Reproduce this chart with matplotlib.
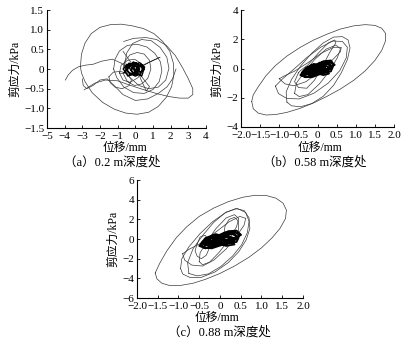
import numpy as np
import matplotlib
matplotlib.use("Agg")
import matplotlib.pyplot as plt
from matplotlib.ticker import FuncFormatter, MultipleLocator

# Fonts: serif digits, CJK fallback for the Chinese labels
FAM = ['Liberation Serif', 'Noto Sans CJK SC']
plt.rcParams['font.family'] = FAM
plt.rcParams['font.size'] = 8
plt.rcParams['axes.unicode_minus'] = True

# ---------------- (a) 0.2 m ----------------
a_big_x = [-3.11, -3.05, -2.85, -2.50, -2.00, -1.40, -0.80, -0.20, 0.45, 1.05, 1.55, 1.95, 2.15, 2.18, 2.05, 1.75,
           1.30, 0.75, 0.10, -0.55, -1.20, -1.85, -2.45, -2.85, -3.05, -3.11]
a_big_y = [0.06, 0.38, 0.66, 0.90, 1.06, 1.13, 1.14, 1.10, 1.03, 0.90, 0.70, 0.45, 0.15, -0.15, -0.45, -0.72,
           -0.95, -1.10, -1.15, -1.12, -1.02, -0.85, -0.60, -0.32, -0.10, 0.06]
a_tear_x = [-0.66, -0.10, 0.60, 1.20, 1.75, 2.25, 2.65, 3.00, 3.25, 3.25, 3.00, 2.50, 1.90, 1.25, 0.50, -0.25,
            -1.00, -1.70, -2.30, -2.90]
a_tear_y = [0.70, 0.78, 0.80, 0.75, 0.60, 0.35, 0.05, -0.25, -0.50, -0.65, -0.74, -0.74, -0.70, -0.63, -0.53, -0.42,
            -0.30, -0.28, -0.36, -0.53]
a_tail_x = [-3.96, -3.80, -3.55, -3.20, -2.80, -2.40, -1.90, -1.30, -0.80, -0.40]
a_tail_y = [-0.28, -0.15, -0.03, 0.06, 0.10, 0.12, 0.20, 0.25, 0.15, 0.02]
a_wave_x = [-3.00, -2.95, -2.75, -2.40, -2.00, -1.60, -1.20, -0.70, 0.00, 0.70, 1.30, 1.80, 2.10, 2.30]
a_wave_y = [-0.25, -0.42, -0.50, -0.42, -0.28, -0.25, -0.42, -0.65, -0.80, -0.76, -0.62, -0.45, -0.25, 0.00]
a_mid1_x = [-1.23, -1.15, -0.90, -0.45, 0.10, 0.65, 1.10, 1.42, 1.50, 1.35, 1.00, 0.50, -0.10, -0.65, -1.05, -1.23]
a_mid1_y = [0.00, 0.25, 0.46, 0.60, 0.63, 0.56, 0.40, 0.18, -0.05, -0.32, -0.52, -0.62, -0.60, -0.46, -0.22, 0.00]
a_mid2_x = [-0.60, -0.50, -0.15, 0.35, 0.90, 1.40, 1.78, 1.90, 1.72, 1.30, 0.75, 0.20, -0.30, -0.55, -0.60]
a_mid2_y = [0.10, 0.40, 0.65, 0.75, 0.72, 0.55, 0.30, 0.02, -0.28, -0.46, -0.50, -0.42, -0.22, -0.05, 0.10]
a_small_x = [-0.70, -0.60, -0.30, 0.10, 0.50, 0.80, 0.88, 0.70, 0.35, -0.05, -0.45, -0.68, -0.90, -0.80, -0.45,
             -0.05, 0.30, 0.38, 0.15, -0.30, -0.70, -0.90]
a_small_y = [0.00, 0.20, 0.36, 0.42, 0.38, 0.22, 0.00, -0.24, -0.38, -0.42, -0.32, -0.12, -0.10, 0.10, 0.22,
             0.25, 0.15, -0.05, -0.22, -0.34, -0.28, -0.10]
a_low_x = [-1.50, -1.42, -1.15, -0.75, -0.35, -0.22, -0.45, -0.85, -1.25, -1.50]
a_low_y = [-0.20, -0.35, -0.46, -0.50, -0.42, -0.28, -0.12, -0.06, -0.08, -0.20]
a_spike_x = [-0.70, -0.30, 0.00, 0.40, 0.80, 0.62, 0.30, 0.10, 0.70, 1.40, 0.80, 0.20, -0.30]
a_spike_y = [0.45, 0.20, 0.00, -0.22, -0.45, -0.56, -0.25, 0.00, 0.15, 0.30, 0.18, 0.05, -0.10]
a_core_x = [-0.65, -0.42, -0.18, 0.00, -0.24, -0.48, -0.30, 0.06, 0.24, 0.06, -0.18, -0.36, -0.12, 0.18, 0.42, 0.30,
            0.00, -0.30, -0.54, -0.36, 0.00, 0.24, 0.48, 0.36, 0.12, -0.06, -0.42, -0.68, -0.48, -0.12, 0.12, 0.36,
            0.52, 0.24, -0.06, -0.24, -0.06, 0.18, 0.00, -0.18]
a_core_y = [-0.10, 0.05, 0.10, -0.05, -0.15, -0.05, 0.12, 0.15, 0.00, -0.15, -0.08, 0.05, 0.18, 0.12, 0.02, -0.12,
            -0.18, -0.12, 0.02, 0.15, 0.08, -0.08, -0.02, 0.12, 0.05, -0.10, -0.18, 0.00, 0.12, 0.02, -0.12, -0.18,
            0.05, 0.16, 0.12, -0.02, -0.15, 0.02, 0.10, 0.00]

# ---------------- (b) 0.58 m ----------------
b_out_x = [-1.72, -1.68, -1.55, -1.35, -1.10, -0.80, -0.45, -0.10, 0.25, 0.60, 0.95, 1.25, 1.50, 1.68, 1.78,
           1.78, 1.68, 1.50, 1.25, 0.95, 0.60, 0.25, -0.10, -0.45, -0.80, -1.10, -1.35, -1.55, -1.68, -1.72]
b_out_y = [-2.25, -2.75, -3.05, -3.18, -3.15, -3.00, -2.72, -2.35, -1.90, -1.40, -0.80, -0.15, 0.55, 1.25, 1.90,
           2.40, 2.75, 2.95, 3.00, 2.92, 2.70, 2.35, 1.95, 1.45, 0.85, 0.20, -0.50, -1.25, -1.80, -2.25]
b_m1_x = [-0.80, -0.68, -0.45, -0.15, 0.15, 0.42, 0.62, 0.78, 0.85, 0.80, 0.65, 0.42, 0.15, -0.15, -0.45, -0.68,
          -0.82, -0.80]
b_m1_y = [-2.30, -2.55, -2.62, -2.40, -1.90, -1.15, -0.30, 0.60, 1.40, 1.95, 2.18, 2.15, 1.75, 1.05, 0.15, -0.75,
          -1.60, -2.30]
b_m2_x = [-1.10, -1.02, -0.80, -0.48, -0.10, 0.28, 0.58, 0.75, 0.78, 0.65, 0.40, 0.08, -0.28, -0.62, -0.92, -1.10]
b_m2_y = [-1.20, -1.72, -2.05, -2.08, -1.70, -1.00, -0.15, 0.72, 1.45, 1.85, 1.88, 1.45, 0.75, -0.05, -0.72, -1.20]
b_l3_x = [-0.60, -0.48, -0.25, 0.05, 0.32, 0.52, 0.60, 0.48, 0.22, -0.08, -0.35, -0.55, -0.60]
b_l3_y = [-1.70, -1.92, -1.78, -1.05, -0.15, 0.75, 1.35, 1.60, 1.32, 0.60, -0.25, -1.00, -1.70]
b_l4_x = [-1.00, -0.85, -0.62, -0.30, 0.02, 0.35, 0.60, 0.62, 0.42, 0.10, -0.25, -0.60, -0.88, -1.00]
b_l4_y = [-0.70, -1.05, -1.18, -0.90, -0.25, 0.48, 1.15, 1.45, 1.45, 1.05, 0.40, -0.18, -0.52, -0.70]
b_l5_x = [-0.50, -0.60, -0.50, -0.28, -0.08, 0.12, 0.32, 0.48, 0.45, 0.28, 0.02, -0.25, -0.45, -0.50]
b_l5_y = [-0.30, -0.90, -1.30, -1.35, -0.80, 0.10, 1.10, 1.75, 1.95, 1.75, 1.05, 0.25, -0.15, -0.30]
b_core_x = [-0.40, -0.30, -0.15, -0.05, -0.20, -0.35, -0.25, -0.05, 0.10, 0.00, -0.20, -0.30, -0.15, 0.05, 0.20,
            0.15, -0.05, -0.10, 0.05, 0.25, 0.35, 0.25, 0.05, 0.00, 0.15, 0.35, 0.42, 0.30, 0.10, -0.10, -0.30,
            -0.45, -0.35, -0.15, 0.05, 0.20, 0.30, 0.15, -0.05, -0.10, 0.05, 0.25, 0.40, 0.35, 0.15, -0.10, -0.25,
            -0.40, -0.30, -0.10, 0.10, 0.25, 0.45, 0.30, 0.10, -0.05, -0.20, -0.35, -0.15, 0.05, 0.20, 0.35, 0.20,
            0.00, -0.20, -0.30, -0.10, 0.10]
b_core_y = [-0.50, -0.20, -0.05, -0.25, -0.45, -0.35, 0.00, 0.15, -0.05, -0.35, -0.30, -0.05, 0.25, 0.30, 0.10,
            -0.20, -0.15, 0.10, 0.40, 0.45, 0.20, -0.10, -0.05, 0.20, 0.50, 0.55, 0.30, 0.00, -0.20, -0.45, -0.60,
            -0.45, -0.15, 0.05, 0.05, -0.15, -0.35, -0.45, -0.30, 0.00, 0.25, 0.30, 0.10, -0.20, -0.30, -0.20, -0.35,
            -0.25, 0.05, 0.30, 0.15, -0.05, 0.25, 0.45, 0.35, 0.05, -0.15, -0.55, -0.60, -0.40, -0.25, 0.00, 0.20,
            0.10, 0.10, -0.25, -0.10, 0.00]

# ---------------- (c) 0.88 m ----------------
c_out_x = [-1.56, -1.52, -1.40, -1.22, -0.95, -0.65, -0.35, 0.00, 0.35, 0.70, 1.00, 1.25, 1.45, 1.58, 1.60, 1.52,
           1.35, 1.12, 0.85, 0.55, 0.20, -0.15, -0.50, -0.80, -1.05, -1.28, -1.45, -1.56]
c_out_y = [-3.45, -4.05, -4.50, -4.72, -4.72, -4.50, -4.10, -3.50, -2.75, -1.85, -0.90, 0.10, 1.10, 2.10, 2.95, 3.65,
           4.15, 4.42, 4.45, 4.25, 3.80, 3.15, 2.30, 1.25, 0.15, -1.20, -2.45, -3.45]
c_m1_x = [-0.95, -0.90, -0.72, -0.45, -0.12, 0.20, 0.45, 0.63, 0.72, 0.70, 0.58, 0.38, 0.12, -0.18, -0.48, -0.75,
          -0.92, -0.95]
c_m1_y = [-3.00, -3.55, -3.92, -3.90, -3.35, -2.40, -1.30, -0.10, 1.05, 2.15, 2.90, 3.10, 2.65, 1.75, 0.55, -0.80,
          -2.00, -3.00]
c_m2_x = [-0.75, -0.55, -0.28, 0.02, 0.30, 0.52, 0.66, 0.70, 0.62, 0.42, 0.15, -0.15, -0.42, -0.65, -0.78, -0.75]
c_m2_y = [-3.50, -3.75, -3.55, -2.80, -1.75, -0.60, 0.65, 1.80, 2.70, 3.10, 2.75, 1.70, 0.35, -1.00, -2.40, -3.50]
c_l3_x = [-0.50, -0.42, -0.25, -0.02, 0.22, 0.40, 0.45, 0.35, 0.15, -0.10, -0.32, -0.48, -0.50]
c_l3_y = [-2.30, -2.62, -2.35, -1.35, -0.05, 1.25, 2.10, 2.48, 2.15, 1.05, -0.30, -1.40, -2.30]
c_l4_x = [-0.55, -0.60, -0.55, -0.45, -0.33, -0.25, -0.27, -0.36, -0.48, -0.55]
c_l4_y = [-0.50, -1.20, -1.75, -2.00, -1.65, -0.85, -0.05, 0.38, 0.20, -0.50]
c_l5_x = [0.10, 0.12, 0.22, 0.35, 0.45, 0.45, 0.38, 0.25, 0.12, 0.10]
c_l5_y = [0.50, 1.30, 2.00, 2.20, 1.80, 0.95, 0.10, -0.45, -0.20, 0.50]
c_l6_x = [-0.90, -0.85, -0.68, -0.42, -0.15, 0.15, 0.40, 0.58, 0.62, 0.48, 0.22, -0.12, -0.45, -0.75, -0.90]
c_l6_y = [-1.50, -2.15, -2.65, -2.75, -2.15, -1.00, 0.30, 1.40, 2.10, 2.30, 1.75, 0.65, -0.40, -1.05, -1.50]
c_core_x = [-0.45, -0.30, -0.15, -0.05, -0.25, -0.40, -0.30, -0.10, 0.05, -0.05, -0.25, -0.35, -0.15, 0.10, 0.25,
            0.15, -0.05, -0.10, 0.10, 0.30, 0.40, 0.30, 0.05, 0.00, 0.20, 0.40, 0.50, 0.35, 0.10, -0.15, -0.35,
            -0.50, -0.40, -0.20, 0.05, 0.25, 0.35, 0.15, -0.05, -0.10, 0.05, 0.30, 0.45, 0.40, 0.15, -0.10, -0.30,
            -0.45, -0.35, -0.10, 0.10, 0.30, 0.50, 0.35, 0.10, -0.05, -0.25, -0.40, -0.20, 0.05, 0.25, 0.40, 0.20,
            0.00, -0.20, -0.35, -0.10, 0.10]
c_core_y = [-0.70, -0.30, -0.10, -0.45, -0.75, -0.50, 0.05, 0.30, 0.00, -0.55, -0.45, -0.10, 0.40, 0.45, 0.10,
            -0.35, -0.25, 0.20, 0.65, 0.70, 0.30, -0.20, -0.10, 0.35, 0.80, 0.85, 0.45, 0.00, -0.35, -0.70, -0.95,
            -0.70, -0.25, 0.10, 0.10, -0.25, -0.55, -0.70, -0.45, 0.00, 0.40, 0.50, 0.15, -0.30, -0.45, -0.30, -0.60,
            -0.40, 0.10, 0.50, 0.25, -0.05, 0.40, 0.70, 0.55, 0.10, -0.25, -0.85, -0.95, -0.60, -0.40, 0.00, 0.30,
            0.15, 0.15, -0.40, -0.15, 0.00]

captions = ['（a）0.2 m深度处', '（b）0.58 m深度处', '（c）0.88 m深度处']
xlabel = '位移/mm'
ylabel = '剪应力/kPa'

LC = '#3a3a3a'


def fmt(v, dec):
    if abs(v) < 1e-9:
        return '0'
    return (('%.' + str(dec) + 'f') % v).replace('-', '\u2212')


def style(ax, xlim, ylim, xstep, ystep, xdec, ydec, ylab_x, xlab_xy):
    ax.set_xlim(*xlim)
    ax.set_ylim(*ylim)
    ax.xaxis.set_major_locator(MultipleLocator(xstep))
    ax.yaxis.set_major_locator(MultipleLocator(ystep))
    ax.xaxis.set_major_formatter(FuncFormatter(lambda v, p: fmt(v, xdec)))
    ax.yaxis.set_major_formatter(FuncFormatter(lambda v, p: fmt(v, ydec)))
    for s in ['top', 'right']:
        ax.spines[s].set_visible(False)
    for s in ['left', 'bottom']:
        ax.spines[s].set_linewidth(0.8)
    ax.tick_params(direction='in', length=2, width=0.6, pad=2, labelsize=8)
    ax.tick_params(axis='x', pad=3.2)
    ax.set_xlabel(xlabel, fontsize=8.5, va='center')
    ax.set_ylabel(ylabel, fontsize=8.5, va='center')
    ax.yaxis.set_label_coords(ylab_x, 0.5)
    ax.xaxis.set_label_coords(*xlab_xy)


def trace(ax, xs, ys, c=LC, lw=0.5):
    ax.plot(xs, ys, color=c, lw=lw, solid_joinstyle='round')


fig = plt.figure(figsize=(4.11, 3.40), dpi=100)
fig.patch.set_facecolor('white')

# panel (a)
ax1 = fig.add_axes([0.1144, 0.6235, 0.3869, 0.347])
for xs, ys in [(a_big_x, a_big_y), (a_tear_x, a_tear_y), (a_tail_x, a_tail_y), (a_wave_x, a_wave_y),
               (a_mid1_x, a_mid1_y), (a_mid2_x, a_mid2_y), (a_small_x, a_small_y), (a_low_x, a_low_y),
               (a_spike_x, a_spike_y)]:
    trace(ax1, xs, ys)
trace(ax1, a_core_x, a_core_y, c='#000000', lw=1.0)
style(ax1, (-5, 4), (-1.5, 1.5), 1, 0.5, 0, 1, -0.201, (0.49, -0.172))

# panel (b)
ax2 = fig.add_axes([0.5864, 0.6265, 0.3723, 0.344])
for xs, ys in [(b_out_x, b_out_y), (b_m1_x, b_m1_y), (b_m2_x, b_m2_y), (b_l3_x, b_l3_y),
               (b_l4_x, b_l4_y), (b_l5_x, b_l5_y)]:
    trace(ax2, xs, ys)
trace(ax2, b_core_x, b_core_y, c='#000000', lw=1.3)
style(ax2, (-2, 2), (-4, 4), 0.5, 2, 1, 0, -0.157, (0.516, -0.182))

# panel (c)
ax3 = fig.add_axes([0.3333, 0.1235, 0.4039, 0.347])
for xs, ys in [(c_out_x, c_out_y), (c_m1_x, c_m1_y), (c_m2_x, c_m2_y), (c_l3_x, c_l3_y),
               (c_l4_x, c_l4_y), (c_l5_x, c_l5_y), (c_l6_x, c_l6_y)]:
    trace(ax3, xs, ys)
trace(ax3, c_core_x, c_core_y, c='#000000', lw=1.3)
style(ax3, (-2, 2), (-6, 6), 0.5, 2, 1, 0, -0.145, (0.48, -0.172))

# captions under each panel
fig.text(112 / 411, 1 - 162 / 340, captions[0], ha='center', va='center', fontsize=9)
fig.text(315 / 411, 1 - 162 / 340, captions[1], ha='center', va='center', fontsize=9)
fig.text(219 / 411, 1 - 332 / 340, captions[2], ha='center', va='center', fontsize=9)

fig.savefig('out.png', dpi=100, facecolor='white')
